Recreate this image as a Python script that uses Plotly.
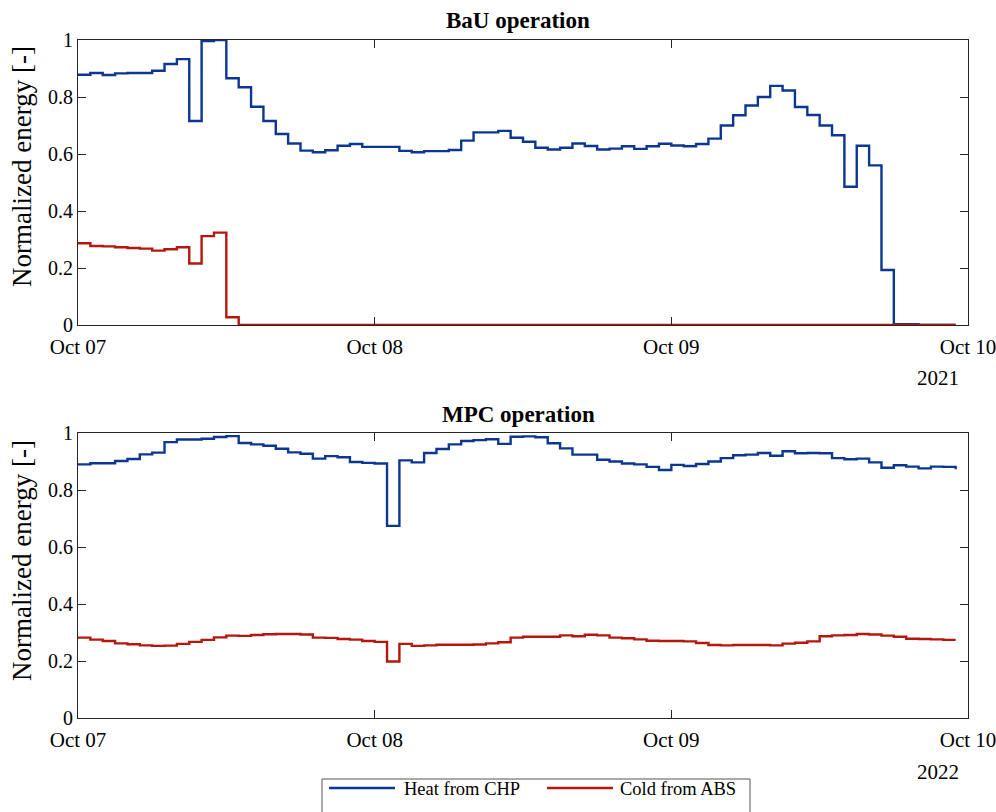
import pandas as pd
import plotly.graph_objects as go

# ---------------- data ----------------
hours = list(range(72))

bau_heat = [0.878, 0.884, 0.877, 0.883, 0.884, 0.884, 0.892, 0.916, 0.933, 0.716,
            0.996, 1.000, 0.866, 0.834, 0.766, 0.716, 0.670, 0.637, 0.612, 0.606,
            0.613, 0.629, 0.635, 0.625, 0.625, 0.625, 0.611, 0.606, 0.610, 0.610,
            0.614, 0.647, 0.676, 0.676, 0.681, 0.657, 0.643, 0.622, 0.616, 0.622,
            0.637, 0.628, 0.616, 0.619, 0.627, 0.618, 0.627, 0.636, 0.630, 0.627,
            0.635, 0.654, 0.700, 0.736, 0.770, 0.800, 0.839, 0.823, 0.765, 0.737,
            0.700, 0.666, 0.485, 0.629, 0.560, 0.193, 0.003, 0.003, 0.0, 0.0,
            0.0, 0.0]

bau_cold = [0.287, 0.277, 0.276, 0.273, 0.270, 0.268, 0.261, 0.266, 0.273, 0.216,
            0.312, 0.324, 0.027] + [0.0] * 59

mpc_heat = [0.890, 0.894, 0.894, 0.902, 0.909, 0.925, 0.931, 0.968, 0.977, 0.977,
            0.980, 0.986, 0.989, 0.965, 0.960, 0.955, 0.945, 0.932, 0.927, 0.910,
            0.919, 0.915, 0.898, 0.895, 0.893, 0.674, 0.904, 0.897, 0.930, 0.944,
            0.960, 0.972, 0.975, 0.978, 0.962, 0.987, 0.988, 0.985, 0.964, 0.946,
            0.924, 0.924, 0.906, 0.900, 0.893, 0.890, 0.881, 0.870, 0.888, 0.884,
            0.891, 0.900, 0.912, 0.922, 0.924, 0.930, 0.920, 0.936, 0.929, 0.930,
            0.929, 0.912, 0.908, 0.910, 0.897, 0.878, 0.887, 0.882, 0.876, 0.882,
            0.881, 0.873]

mpc_cold = [0.282, 0.275, 0.270, 0.262, 0.259, 0.255, 0.253, 0.254, 0.260, 0.267,
            0.274, 0.283, 0.289, 0.288, 0.291, 0.294, 0.295, 0.295, 0.293, 0.282,
            0.281, 0.277, 0.275, 0.270, 0.267, 0.198, 0.260, 0.253, 0.255, 0.257,
            0.257, 0.257, 0.258, 0.262, 0.266, 0.282, 0.285, 0.285, 0.285, 0.290,
            0.287, 0.292, 0.290, 0.282, 0.280, 0.276, 0.271, 0.270, 0.270, 0.269,
            0.263, 0.256, 0.255, 0.256, 0.256, 0.256, 0.255, 0.261, 0.264, 0.269,
            0.287, 0.290, 0.291, 0.295, 0.293, 0.289, 0.285, 0.278, 0.277, 0.276,
            0.274, 0.274]

series_names = ["Heat from CHP", "Cold from ABS"]

x_bau = pd.date_range("2021-10-07 00:00", periods=72, freq="h")
x_mpc = pd.date_range("2022-10-07 00:00", periods=72, freq="h")

xtick_labels = ["Oct 07", "Oct 08", "Oct 09", "Oct 10"]
xtick_bau = ["2021-10-07", "2021-10-08", "2021-10-09", "2021-10-10"]
xtick_mpc = ["2022-10-07", "2022-10-08", "2022-10-09", "2022-10-10"]
ytick_vals = [0, 0.2, 0.4, 0.6, 0.8, 1]
ytick_text = ["0", "0.2", "0.4", "0.6", "0.8", "1"]

BLUE = "#0b3791"
RED = "#b5170c"
AX = "#262626"
FONT = "Liberation Serif"

fig = go.Figure()
fig.add_trace(go.Scatter(x=x_bau, y=bau_heat, mode="lines", line=dict(color=BLUE, width=2.4, shape="hv"),
                         name=series_names[0], xaxis="x", yaxis="y", showlegend=False))
fig.add_trace(go.Scatter(x=x_bau, y=bau_cold, mode="lines", line=dict(color=RED, width=2.4, shape="hv"),
                         name=series_names[1], xaxis="x", yaxis="y", showlegend=False))
fig.add_trace(go.Scatter(x=x_mpc, y=mpc_heat, mode="lines", line=dict(color=BLUE, width=2.4, shape="hv"),
                         name=series_names[0], xaxis="x2", yaxis="y2", showlegend=False))
fig.add_trace(go.Scatter(x=x_mpc, y=mpc_cold, mode="lines", line=dict(color=RED, width=2.4, shape="hv"),
                         name=series_names[1], xaxis="x2", yaxis="y2", showlegend=False))

W, H = 996, 812
L, R, T, B = 78, 28, 40, 94
pw = W - L - R   # 890
ph = H - T - B   # 678
top_dom = [(718 - 325) / ph, 1.0]
bot_dom = [0.0, 285 / ph]


def px(x):
    return (x - L) / pw


def py(y):
    return (718 - y) / ph


common_x = dict(showgrid=False, zeroline=False, showline=True, linecolor=AX, linewidth=1,
                mirror="ticks", ticks="inside", ticklen=8, tickcolor=AX, tickwidth=1,
                tickfont=dict(family=FONT, size=21, color="black"), ticktext=xtick_labels,
                tickmode="array", automargin=False, ticklabeloverflow="allow",
                ticklabelstandoff=3)
common_y = dict(showgrid=False, zeroline=False, showline=True, linecolor=AX, linewidth=1,
                mirror="ticks", ticks="inside", ticklen=8, tickcolor=AX, tickwidth=1,
                tickfont=dict(family=FONT, size=20, color="black"), tickmode="array",
                tickvals=ytick_vals, ticktext=ytick_text, range=[0, 1], automargin=False,
                ticklabeloverflow="allow")

fig.update_layout(
    width=W, height=H, autosize=False,
    margin=dict(l=L, r=R, t=T, b=B),
    paper_bgcolor="white", plot_bgcolor="white",
    font=dict(family=FONT, color="black"),
    xaxis=dict(common_x, domain=[0, 1], anchor="y", tickvals=xtick_bau,
               range=["2021-10-07", "2021-10-10"]),
    yaxis=dict(common_y, domain=top_dom, anchor="x"),
    xaxis2=dict(common_x, domain=[0, 1], anchor="y2", tickvals=xtick_mpc,
                range=["2022-10-07", "2022-10-10"]),
    yaxis2=dict(common_y, domain=bot_dom, anchor="x2"),
    showlegend=False,
)

ann = []
ann.append(dict(text="<b>BaU operation</b>", x=px(518), y=py(20), xref="paper", yref="paper",
                xanchor="center", yanchor="middle", showarrow=False,
                font=dict(family=FONT, size=23, color="black")))
ann.append(dict(text="<b>MPC operation</b>", x=px(518), y=py(414), xref="paper", yref="paper",
                xanchor="center", yanchor="middle", showarrow=False,
                font=dict(family=FONT, size=23, color="black")))
for yc in [167, 561]:
    ann.append(dict(text="Normalized energy [-]", x=px(22), y=py(yc), xref="paper", yref="paper",
                    xanchor="center", yanchor="middle", textangle=-90, showarrow=False,
                    font=dict(family=FONT, size=27, color="black")))
ann.append(dict(text="2021", x=px(961), y=py(378), xref="paper", yref="paper",
                xanchor="right", yanchor="middle", showarrow=False,
                font=dict(family=FONT, size=21, color="black")))
ann.append(dict(text="2022", x=px(961), y=py(772), xref="paper", yref="paper",
                xanchor="right", yanchor="middle", showarrow=False,
                font=dict(family=FONT, size=21, color="black")))

# legend box (drawn in the figure's bottom margin, cut by the page edge as in the reference)
shapes = [dict(type="rect", xref="paper", yref="paper", x0=px(322), x1=px(750), y0=py(779), y1=py(840),
               line=dict(color="#555555", width=1), fillcolor="white", layer="above")]
leg_items = [(series_names[0], BLUE, 329, 395, 402), (series_names[1], RED, 547, 613, 618)]
for name, col, lx0, lx1, tx in leg_items:
    shapes.append(dict(type="line", xref="paper", yref="paper", x0=px(lx0), x1=px(lx1),
                       y0=py(788), y1=py(788), line=dict(color=col, width=2.4), layer="above"))
    ann.append(dict(text=name, x=px(tx), y=py(789), xref="paper", yref="paper",
                    xanchor="left", yanchor="middle", showarrow=False,
                    font=dict(family=FONT, size=18.5, color="black")))

fig.update_layout(annotations=ann, shapes=shapes)

post = ("document.documentElement.style.margin='0';document.body.style.margin='0';"
        "document.documentElement.style.overflow='hidden';document.body.style.overflow='hidden';")
fig.write_html("out.html", config={"displayModeBar": False, "responsive": False}, post_script=post)
